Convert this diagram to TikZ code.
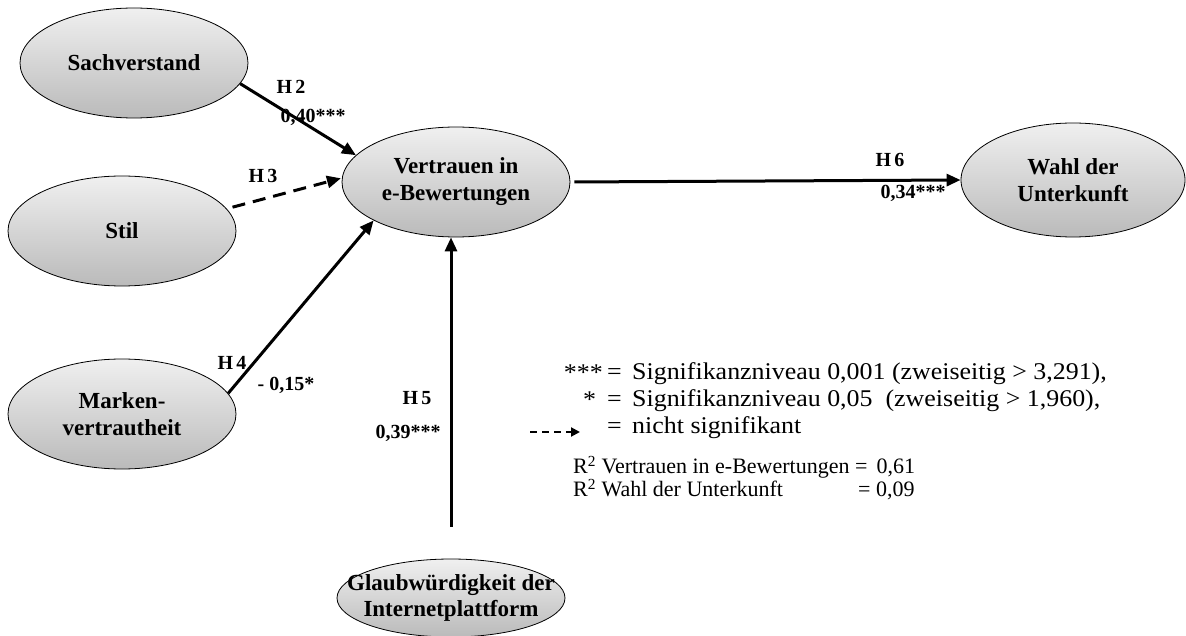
\documentclass[tikz,border=0pt]{standalone}
\usepackage{fontspec}
\setmainfont{Liberation Serif}
\newfontfamily\legwide{Liberation Serif}[FakeStretch=1.08]
\usetikzlibrary{shapes.geometric,arrows.meta}
\tikzset{
  construct/.style={ellipse, draw=black, line width=0.8pt, top color=black!6, bottom color=black!27,
    minimum width=228pt, minimum height=110pt, inner sep=0pt, align=center,
    font=\bfseries\fontsize{23}{27}\selectfont},
  path/.style={line width=3pt, -{Triangle[length=14pt,width=12pt]}},
  nspath/.style={line width=3pt, dash pattern=on 13pt off 8pt, -{Triangle[length=14pt,width=12pt]}},
  lab/.style={font=\bfseries\fontsize{20}{24}\selectfont, inner sep=0pt},
  leg/.style={font=\fontsize{22}{26}\selectfont, inner sep=0pt, anchor=west, text height=1.5ex, text depth=0.3ex},
  legw/.style={leg, font=\legwide\fontsize{24}{28}\selectfont}
}
\begin{document}
\begin{tikzpicture}[x=1pt,y=-1pt]
\useasboundingbox (0,0) rectangle (1186,636);
% constructs
\node[construct] (sach) at (134,63) {Sachverstand};
\node[construct] (stil) at (122,231) {Stil};
\node[construct] (mark) at (122,414) {Marken-\\vertrautheit};
\node[construct] (vert) at (456,182) {Vertrauen in\\e-Bewertungen};
\node[construct, minimum width=224pt, minimum height=114pt] (wahl) at (1073,180) {Wahl der\\Unterkunft};
\node[construct, minimum height=78pt, font=\bfseries\fontsize{23}{26}\selectfont] (glaub) at (451,598) {\makebox[0pt]{Glaubwürdigkeit der}\\\makebox[0pt]{Internetplattform}};
% paths
\draw[path] (sach.-11) -- (vert.165);
\draw[nspath, shorten <=6pt, shorten >=1pt] (stil.12) -- (vert.178);
\draw[path] (mark.11) -- (vert.205);
\draw[path, shorten <=32pt] (glaub.north) -- (glaub.north |- vert.south);
\draw[path, shorten <=4pt] (vert.east) -- (wahl.west);
% path labels
\node[lab] (h2) at (291,87) {H\,2};
\node[lab] (c2) at (313,117) {0,40***};
\node[lab] (h3) at (263,176) {H\,3};
\node[lab] (h4) at (232,363) {H\,4};
\node[lab] (c4) at (286,385) {- 0,15*};
\node[lab] (h5) at (417,398) {H\,5};
\node[lab] (c5) at (408,433) {0,39***};
\node[lab] (h6) at (890,160) {H\,6};
\node[lab] (c6) at (913,193) {0,34***};
% legend
\node[legw, anchor=east] (s1) at (603,378) {***};
\node[legw] (e1) at (607,377) {=};
\node[legw] (t1) at (632,377) {Signifikanzniveau 0,001 (zweiseitig > 3,291),};
\node[legw] (s2) at (583,405) {*};
\node[legw] (e2) at (607,404) {=};
\node[legw] (t2) at (632,404) {Signifikanzniveau 0,05 \ (zweiseitig > 1,960),};
\coordinate (la) at (530,432);
\coordinate (lb) at (580,432);
\draw[line width=2pt, dash pattern=on 7pt off 5pt, -{Triangle[length=9pt,width=9pt]}] (la) -- (lb);
\node[legw] (e3) at (607,431) {=};
\node[legw] (t3) at (632,431) {nicht signifikant};
\node[leg] (r1) at (573,471) {R\textsuperscript{2} Vertrauen in e-Bewertungen = \,0,61};
\node[leg] (r2) at (573,494) {R\textsuperscript{2} Wahl der Unterkunft};
\node[leg] (r2v) at (858,494) {= 0,09};
\end{tikzpicture}
\end{document}
